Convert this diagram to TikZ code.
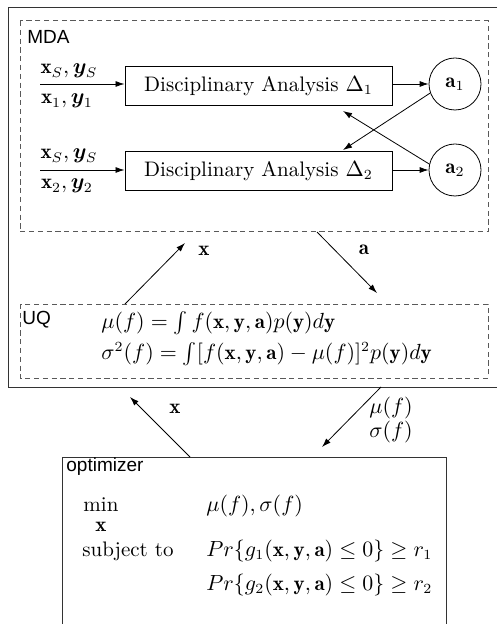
\documentclass[tikz,border=0pt]{standalone}
\usepackage{amsmath,amssymb,bm}
\usepackage{fontspec}
\newfontfamily\lblsans{Liberation Sans}
\usetikzlibrary{arrows.meta}
\begin{document}
\begin{tikzpicture}[x=0.5pt,y=-0.5pt,
  font=\fontsize{10.5}{13}\selectfont,
  solidline/.style={draw=black!80, line width=0.5pt},
  dashline/.style={draw=black!65, line width=0.5pt, dash pattern=on 2.6pt off 1.8pt},
  arr/.style={-{Latex[length=4.5pt,width=3pt]}, line width=0.4pt},
  dabox/.style={draw, line width=0.5pt, minimum width=133.5pt, minimum height=19.5pt, inner sep=0pt},
  acirc/.style={draw, circle, line width=0.4pt, minimum size=26pt, inner sep=0pt},
  lbl/.style={inner sep=0pt},
  sflbl/.style={inner sep=0pt, anchor=west, font=\fontsize{9.5}{11}\lblsans}
]
\useasboundingbox (0,0) rectangle (497,624);
% outer solid box (right side beyond the picture)
\draw[solidline] (497,8) -- (8,8) -- (8,387) -- (497,387);
% MDA dashed box
\draw[dashline] (20,21) rectangle (488,232);
\node[sflbl] (mdalbl) at (27,37) {MDA};
% UQ dashed box
\draw[dashline] (20,304) rectangle (488,378);
\node[sflbl] (uqlbl) at (22,320) {UQ};
% optimizer box (bottom beyond the picture)
\draw[solidline] (62,624) -- (62,457) -- (446,457) -- (446,624);
\node[sflbl] (optlbl) at (66,467) {optimizer};

% disciplinary analyses
\node[dabox] (da1) at (258.5,86) {Disciplinary Analysis $\Delta_1$};
\node[dabox] (da2) at (258.5,171) {Disciplinary Analysis $\Delta_2$};
\node[acirc] (a1) at (455,84) {$\mathbf{a}_1$};
\node[acirc] (a2) at (455,170) {$\mathbf{a}_2$};
\coordinate (in1) at (40,84);
\coordinate (in2) at (40,170);
\draw[arr] (in1) -- (in1 -| da1.west);
\draw[arr] (in2) -- (in2 -| da2.west);
\node[lbl] (in1a) at (69,71) {$\mathbf{x}_S,\bm{y}_S$};
\node[lbl] (in1b) at (67,101) {$\mathbf{x}_1,\bm{y}_1$};
\node[lbl] (in2a) at (69,156) {$\mathbf{x}_S,\bm{y}_S$};
\node[lbl] (in2b) at (67,186) {$\mathbf{x}_2,\bm{y}_2$};
\draw[arr] (da1.east |- a1.west) -- (a1.west);
\draw[arr] (da2.east |- a2.west) -- (a2.west);
\coordinate (t1) at (343,111);
\coordinate (t2) at (343,150);
\draw[arr] (a1.200) -- (t2);
\draw[arr] (a2.167) -- (t1);

% MDA <-> UQ
\coordinate (uqx) at (125,304);
\coordinate (mdax) at (185,243);
\coordinate (mdaa) at (317,232);
\coordinate (uqa) at (377,293);
\draw[arr] (uqx) -- (mdax);
\draw[arr] (mdaa) -- (uqa);
\node[lbl] (xlbl1) at (204,251) {$\mathbf{x}$};
\node[lbl] (albl1) at (364,250) {$\mathbf{a}$};

% UQ equations
\node[lbl, anchor=west] (mueq) at (101,323) {$\mu(f) = \int f(\mathbf{x},\mathbf{y},\mathbf{a})p(\mathbf{y})d\mathbf{y}$};
\node[lbl, anchor=west] (sigeq) at (101,354) {$\sigma^2(f) = \int [f(\mathbf{x},\mathbf{y},\mathbf{a}) - \mu(f)]^2p(\mathbf{y})d\mathbf{y}$};

% outer <-> optimizer
\coordinate (optx) at (190,457);
\coordinate (outx) at (130,397);
\coordinate (outm) at (381,387);
\coordinate (optm) at (322,447);
\draw[arr] (optx) -- (outx);
\draw[arr] (outm) -- (optm);
\node[lbl] (xlbl2) at (175,409) {$\mathbf{x}$};
\node[lbl] (mulbl) at (391,408) {$\mu(f)$};
\node[lbl] (siglbl) at (391,432) {$\sigma(f)$};

% optimizer contents
\node[lbl, align=center] (minlbl) at (101,515) {$\min$\\[-3pt]$\mathbf{x}$};
\node[lbl, anchor=west] (obj) at (206,506) {$\mu(f),\sigma(f)$};
\node[lbl, anchor=west] (subj) at (82,551) {subject to};
\node[lbl, anchor=west] (c1) at (206,551) {$Pr\{g_1(\mathbf{x},\mathbf{y},\mathbf{a}) \leq 0\} \geq r_1$};
\node[lbl, anchor=west] (c2) at (206,585) {$Pr\{g_2(\mathbf{x},\mathbf{y},\mathbf{a}) \leq 0\} \geq r_2$};
\end{tikzpicture}
\end{document}
